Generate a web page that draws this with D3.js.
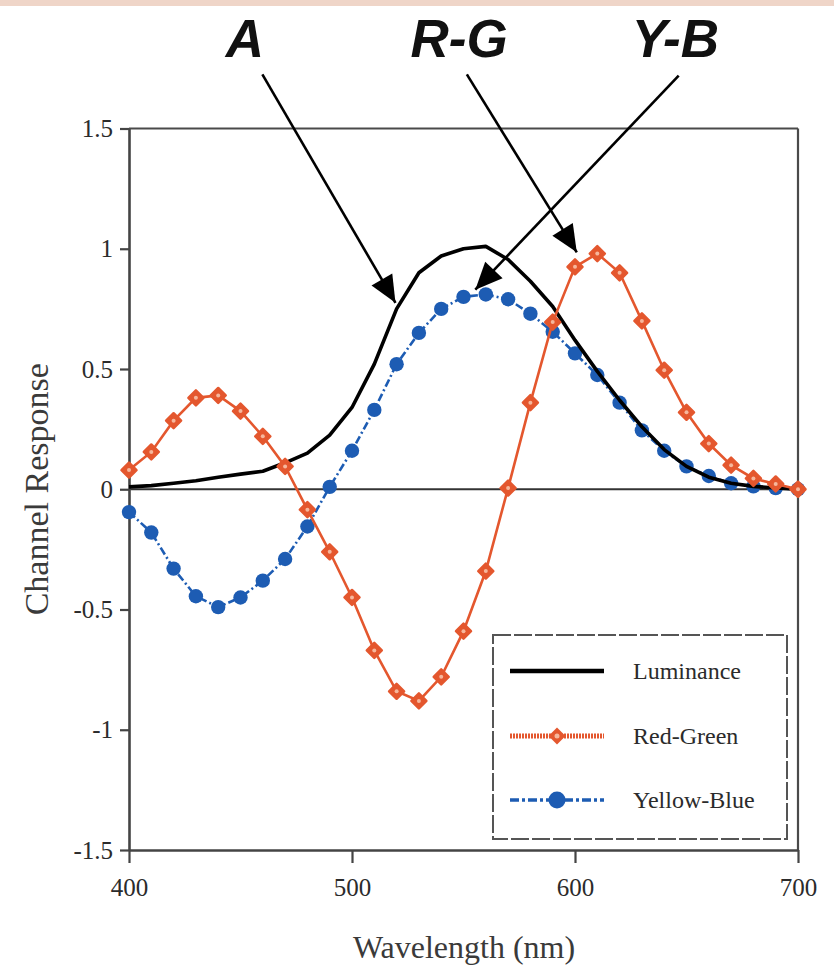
<!DOCTYPE html>
<html>
<head>
<meta charset="utf-8">
<script src="https://cdn.jsdelivr.net/npm/d3@7"></script>
<style>
  html, body { margin: 0; padding: 0; background: #fff; }
  svg { display: block; }
</style>
</head>
<body>
<svg id="chart" width="834" height="978"></svg>
<script>
// Wavelengths sampled every 10 nm
const wavelengths = [400,410,420,430,440,450,460,470,480,490,500,510,520,530,540,550,560,570,580,590,600,610,620,630,640,650,660,670,680,690,700];

// Opponent-channel responses
const luminance = [0.01,0.015,0.025,0.035,0.05,0.063,0.075,0.11,0.15,0.225,0.34,0.52,0.75,0.9,0.97,1.0,1.01,0.955,0.865,0.76,0.62,0.49,0.37,0.26,0.165,0.095,0.05,0.025,0.012,0.005,0.0];
const redGreen = [0.08,0.155,0.285,0.38,0.39,0.325,0.22,0.095,-0.085,-0.26,-0.45,-0.67,-0.84,-0.88,-0.78,-0.59,-0.34,0.005,0.36,0.695,0.925,0.98,0.9,0.7,0.495,0.32,0.19,0.1,0.045,0.022,0.0];
const yellowBlue = [-0.095,-0.18,-0.33,-0.445,-0.49,-0.45,-0.38,-0.29,-0.155,0.01,0.16,0.33,0.52,0.65,0.75,0.8,0.81,0.79,0.73,0.655,0.565,0.475,0.36,0.245,0.16,0.095,0.055,0.025,0.012,0.005,0.0];

const xTicks = [400,500,600,700];
const yTicks = [-1.5,-1,-0.5,0,0.5,1,1.5];
const legendLabels = ["Luminance","Red-Green","Yellow-Blue"];

// Callout labels with arrows (tail and tip in wavelength / response units)
const calloutText = ["A","R-G","Y-B"];
const calloutLabelX = [452,548,645];
const calloutTail = [[459.8,1.725],[551.5,1.725],[646.5,1.72]];
const calloutTip = [[519.5,0.775],[600.8,0.985],[555.3,0.83]];

const RED = "#e4572e";
const BLUE = "#1d5cb3";

const svg = d3.select("#chart");

// faint band across the very top
svg.append("rect").attr("x",0).attr("y",0).attr("width",834).attr("height",6).attr("fill","#efd5c8");

const x = d3.scaleLinear().domain([400,700]).range([129,798]);
const y = d3.scaleLinear().domain([-1.5,1.5]).range([850,128.5]);

// frame: top and right edges
svg.append("line").attr("x1",x(400)).attr("x2",x(700)).attr("y1",y(1.5)).attr("y2",y(1.5))
  .attr("stroke","#4a4a4a").attr("stroke-width",2.2);
svg.append("line").attr("x1",x(700)).attr("x2",x(700)).attr("y1",y(1.5)).attr("y2",y(-1.5))
  .attr("stroke","#4a4a4a").attr("stroke-width",2.2);

// zero reference line
svg.append("line").attr("x1",x(400)).attr("x2",x(700)).attr("y1",y(0)).attr("y2",y(0))
  .attr("stroke","#333").attr("stroke-width",2.2);

// axes
const yAxis = d3.axisLeft(y).tickValues(yTicks).tickFormat(d => String(d))
  .tickSize(9).tickSizeOuter(0).tickPadding(7);
const xAxis = d3.axisBottom(x).tickValues(xTicks).tickFormat(d => String(d))
  .tickSize(13).tickSizeOuter(0).tickPadding(15);

const gy = svg.append("g").attr("transform",`translate(${x(400)},0)`).call(yAxis);
const gx = svg.append("g").attr("transform",`translate(0,${y(-1.5)})`).call(xAxis);
[gx, gy].forEach(g => {
  g.select(".domain").attr("stroke","#444").attr("stroke-width",2.6);
  g.selectAll(".tick line").attr("stroke","#444").attr("stroke-width",2.2);
  g.selectAll(".tick text").attr("fill","#2b2b2b")
    .style("font-family","'Liberation Serif', 'DejaVu Serif', serif").style("font-size","25px");
});

// axis titles
svg.append("text").attr("x",464).attr("y",958).attr("text-anchor","middle")
  .style("font-family","'Liberation Serif', serif").style("font-size","32px").attr("fill","#3a3a3a")
  .text("Wavelength (nm)");
svg.append("text").attr("transform",`translate(48,${y(0)}) rotate(-90)`).attr("text-anchor","middle")
  .style("font-family","'Liberation Serif', serif").style("font-size","34px").attr("fill","#3a3a3a")
  .text("Channel Response");

const pts = arr => wavelengths.map((w,i) => [w, arr[i]]);
const line = d3.line().x(d => x(d[0])).y(d => y(d[1]));

// Yellow-Blue: dash-dot line with filled circles
svg.append("path").attr("d", line(pts(yellowBlue))).attr("fill","none")
  .attr("stroke",BLUE).attr("stroke-width",2.6).attr("stroke-dasharray","8,3,2,3");
svg.append("g").selectAll("circle").data(pts(yellowBlue)).join("circle")
  .attr("cx",d => x(d[0])).attr("cy",d => y(d[1])).attr("r",7.2).attr("fill",BLUE);

// Luminance: solid black line
svg.append("path").attr("d", line(pts(luminance))).attr("fill","none")
  .attr("stroke","#000").attr("stroke-width",3.6).attr("stroke-linejoin","round");

// Red-Green: solid line with diamond markers
svg.append("path").attr("d", line(pts(redGreen))).attr("fill","none")
  .attr("stroke",RED).attr("stroke-width",2.6);
const diamond = s => `M0,${-s}L${s},0L0,${s}L${-s},0Z`;
const rg = svg.append("g").selectAll("g").data(pts(redGreen)).join("g")
  .attr("transform",d => `translate(${x(d[0])},${y(d[1])})`);
rg.append("path").attr("d",diamond(7.5)).attr("fill",RED).attr("stroke",RED).attr("stroke-width",2.5).attr("stroke-linejoin","round");
rg.append("circle").attr("r",2).attr("fill","#f6b79c");

// callouts
const defs = svg.append("defs");
defs.append("marker").attr("id","head").attr("markerUnits","userSpaceOnUse")
  .attr("viewBox","-28 -13 30 26").attr("refX",0).attr("refY",0)
  .attr("markerWidth",30).attr("markerHeight",26).attr("orient","auto")
  .append("path").attr("d","M0,0L-27,-12L-27,12Z").attr("fill","#000");

calloutText.forEach((t,i) => {
  const [tx,ty] = calloutTail[i];
  const [hx,hy] = calloutTip[i];
  svg.append("line").attr("x1",x(tx)).attr("y1",y(ty)).attr("x2",x(hx)).attr("y2",y(hy))
    .attr("stroke","#000").attr("stroke-width",2.6).attr("marker-end","url(#head)");
  svg.append("text").attr("x",x(calloutLabelX[i])).attr("y",57).attr("text-anchor","middle")
    .style("font-family","'Liberation Sans', Arial, sans-serif").style("font-size","53px")
    .style("font-style","italic").style("font-weight","bold").attr("fill","#111")
    .text(t);
});

// legend
const lg = svg.append("g");
lg.append("rect").attr("x",493).attr("y",635).attr("width",294).attr("height",204)
  .attr("fill","#fff").attr("stroke","#555").attr("stroke-width",2).attr("stroke-dasharray","18,3");
const rowY = [671,736,800];
const lx1 = 510, lx2 = 604, lmid = 557;
// luminance sample
lg.append("line").attr("x1",lx1).attr("x2",lx2).attr("y1",rowY[0]).attr("y2",rowY[0])
  .attr("stroke","#000").attr("stroke-width",4.5);
// red-green sample
lg.append("line").attr("x1",lx1).attr("x2",lx2).attr("y1",rowY[1]).attr("y2",rowY[1])
  .attr("stroke",RED).attr("stroke-width",5).attr("stroke-dasharray","2,1");
lg.append("path").attr("transform",`translate(${lmid},${rowY[1]})`).attr("d",diamond(8.5)).attr("fill",RED);
lg.append("circle").attr("cx",lmid).attr("cy",rowY[1]).attr("r",2.5).attr("fill","#f6b79c");
// yellow-blue sample
lg.append("line").attr("x1",lx1).attr("x2",lx2).attr("y1",rowY[2]).attr("y2",rowY[2])
  .attr("stroke",BLUE).attr("stroke-width",3.5).attr("stroke-dasharray","9,3,3,3");
lg.append("circle").attr("cx",lmid).attr("cy",rowY[2]).attr("r",8.5).attr("fill",BLUE);

lg.selectAll("text.lab").data(legendLabels).join("text").attr("class","lab")
  .attr("x",633).attr("y",(d,i) => rowY[i] + 8)
  .style("font-family","'Liberation Serif', serif").style("font-size","24px").attr("fill","#2b2b2b")
  .text(d => d);
</script>
</body>
</html>
